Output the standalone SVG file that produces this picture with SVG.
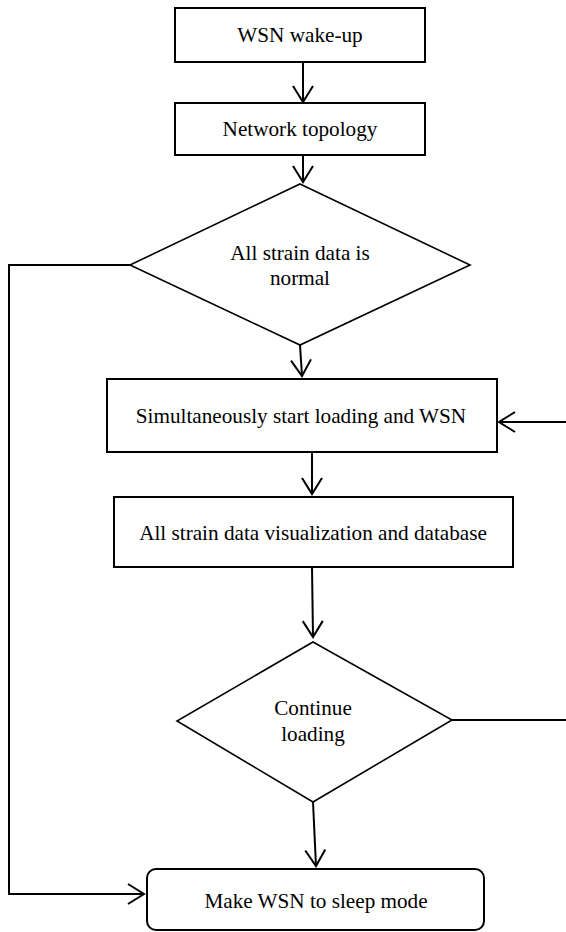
<svg xmlns="http://www.w3.org/2000/svg" width="566" height="932" viewBox="0 0 566 932">
<defs>
<marker id="arr" markerWidth="22" markerHeight="24" refX="18" refY="12" orient="auto" markerUnits="userSpaceOnUse">
<path d="M2,2 L18,12 L2,22" fill="none" stroke="#000" stroke-width="2"/>
</marker>
</defs>
<style>
.box{fill:#fff;stroke:#000;stroke-width:2}
.dia{fill:#fff;stroke:#000;stroke-width:1.6}
.t{font-size:21.2px;fill:#000;text-anchor:middle}
.c{fill:none;stroke:#000;stroke-width:2}
</style>
<rect width="566" height="932" fill="#fff"/>
<g id="connectors">
<line class="c" x1="303" y1="62" x2="303" y2="102" marker-end="url(#arr)"/>
<line class="c" x1="303" y1="155" x2="303" y2="182" marker-end="url(#arr)"/>
<line class="c" x1="300" y1="345" x2="302" y2="376" marker-end="url(#arr)"/>
<line class="c" x1="312" y1="452" x2="312" y2="494" marker-end="url(#arr)"/>
<line class="c" x1="312" y1="567" x2="313" y2="637" marker-end="url(#arr)"/>
<line class="c" x1="313" y1="802" x2="316" y2="866" marker-end="url(#arr)"/>
<polyline class="c" points="130,265 9,265 9,894 144,894" marker-end="url(#arr)"/>
<polyline class="c" points="452,720 566,720"/>
<line class="c" x1="566" y1="422" x2="499" y2="422" marker-end="url(#arr)"/>
</g>
<g font-family="'Liberation Serif', 'Times New Roman', 'DejaVu Serif', serif">
<g id="n1">
<rect class="box" x="175" y="8" width="250" height="54"/>
<text class="t" x="300" y="42">WSN wake-up</text>
</g>
<g id="n2">
<rect class="box" x="175" y="103" width="250" height="52"/>
<text class="t" x="300" y="136">Network topology</text>
</g>
<g id="n3">
<polygon class="dia" points="300,184 470,265 300,345 130,265"/>
<text class="t" x="300" y="260">All strain data is</text>
<text class="t" x="300" y="285">normal</text>
</g>
<g id="n4">
<rect class="box" x="107" y="379" width="390" height="73"/>
<text class="t" x="301" y="423">Simultaneously start loading and WSN</text>
</g>
<g id="n5">
<rect class="box" x="114" y="497" width="399" height="70"/>
<text class="t" x="313" y="540">All strain data visualization and database</text>
</g>
<g id="n6">
<polygon class="dia" points="313,642 452,720 313,802 177,721"/>
<text class="t" x="313" y="715">Continue</text>
<text class="t" x="313" y="741">loading</text>
</g>
<g id="n7">
<rect class="box" x="147" y="869" width="337" height="61" rx="9" ry="9"/>
<text class="t" x="316" y="908">Make WSN to sleep mode</text>
</g>
</g>
</svg>
